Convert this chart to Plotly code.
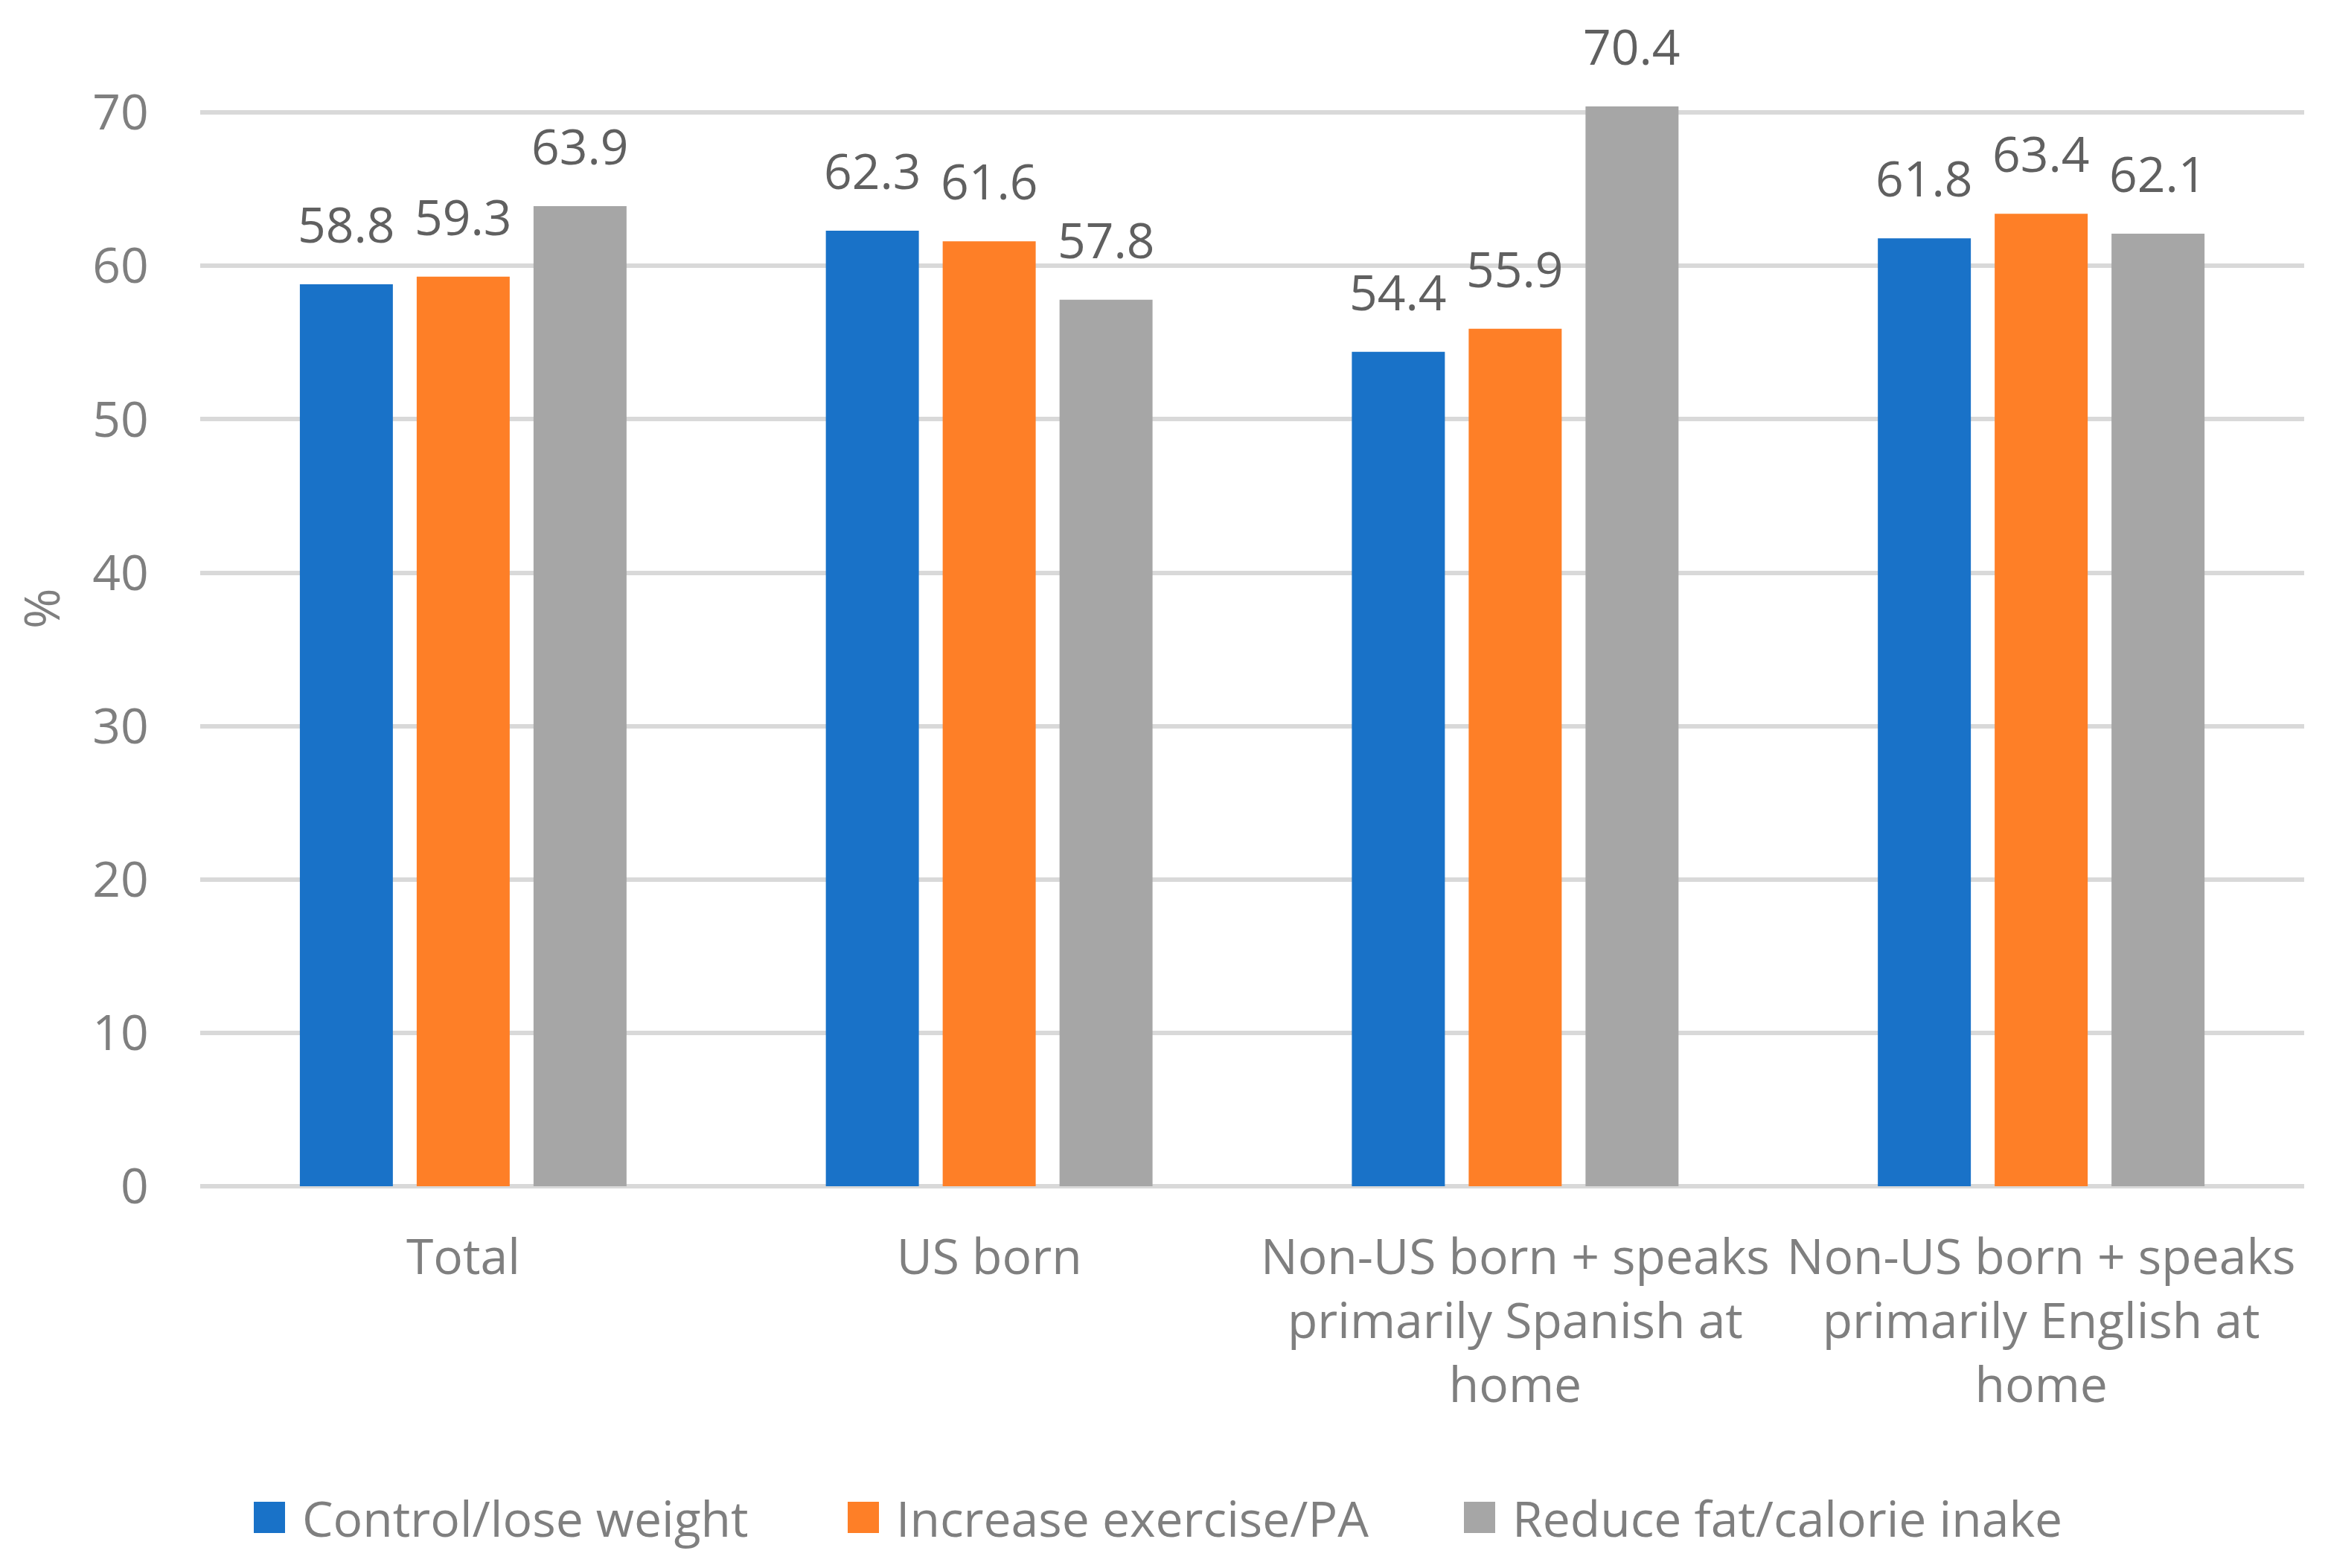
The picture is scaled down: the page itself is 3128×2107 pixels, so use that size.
import plotly.graph_objects as go

# ---------------- data ----------------
categories = ["Total", "US born",
              "Non-US born + speaks<br>primarily Spanish at<br>home",
              "Non-US born + speaks<br>primarily English at<br>home"]
series_names = ["Control/lose weight", "Increase exercise/PA", "Reduce fat/calorie inake"]
control_lose_weight = [58.8, 62.3, 54.4, 61.8]
increase_exercise = [59.3, 61.6, 55.9, 63.4]
reduce_fat = [63.9, 57.8, 70.4, 62.1]
y_ticks = [0, 10, 20, 30, 40, 50, 60, 70]
y_title = "%"

# ---------------- style ----------------
colors = ["#1972c8", "#fe7f27", "#a6a6a6"]
FONT = "Open Sans, Segoe UI, Lato, sans-serif"
FS = 66
AXIS_COLOR = "#7f7f7f"
LABEL_COLOR = "#606060"

OFF = 8                      # browser body margin
FW, FH = 3128 - 2 * OFF, 2107 - 2 * OFF
L, R, T, B = 261, 24, 102, 505
PW, PH = FW - L - R, FH - T - B
BARGAP, BARGROUPGAP = 0.3336, 0.204
N = 3
slot_px = PW / len(categories) * (1 - BARGAP) / N


def px_x(X):
    return (X - OFF - L) / PW


def px_y(Y):
    return (FH - B - (Y - OFF)) / PH


fig = go.Figure()
all_vals = [control_lose_weight, increase_exercise, reduce_fat]
annotations = []
for i, (name, vals, col) in enumerate(zip(series_names, all_vals, colors)):
    fig.add_trace(go.Bar(
        x=categories, y=vals, name=name,
        marker=dict(color=col, line=dict(width=0)),
        showlegend=False, cliponaxis=False,
    ))
    for c, v in zip(categories, vals):
        annotations.append(dict(
            x=c, y=v, xref="x", yref="y", text=f"{v:.1f}", showarrow=False,
            xanchor="center", yanchor="bottom",
            xshift=(i - (N - 1) / 2) * slot_px, yshift=35,
            font=dict(family=FONT, size=FS, color=LABEL_COLOR),
        ))

# legend (custom, bigger swatches like the reference)
legend_sq_left = [341, 1139, 1967]
SQ = 42
LEG_Y = 2039
shapes = []
for i, (name, col) in enumerate(zip(series_names, colors)):
    x0 = legend_sq_left[i]
    shapes.append(dict(type="rect", xref="paper", yref="paper",
                       x0=px_x(x0), x1=px_x(x0 + SQ),
                       y0=px_y(LEG_Y + SQ / 2), y1=px_y(LEG_Y - SQ / 2),
                       fillcolor=col, line=dict(width=0)))
    annotations.append(dict(
        x=px_x(x0 + SQ + 21), y=px_y(LEG_Y), xref="paper", yref="paper",
        text=name, showarrow=False, xanchor="left", yanchor="middle",
        font=dict(family=FONT, size=FS, color=AXIS_COLOR),
    ))

# y-axis title
annotations.append(dict(
    x=px_x(54), y=px_y(818), xref="paper", yref="paper", text=y_title,
    showarrow=False, textangle=-90, xanchor="center", yanchor="middle",
    font=dict(family=FONT, size=FS, color=AXIS_COLOR),
))

fig.update_layout(
    width=FW, height=FH,
    margin=dict(l=L, r=R, t=T, b=B),
    paper_bgcolor="white", plot_bgcolor="white",
    barmode="group", bargap=BARGAP, bargroupgap=BARGROUPGAP,
    font=dict(family=FONT, size=FS, color=AXIS_COLOR),
    showlegend=False,
    annotations=annotations, shapes=shapes,
)
fig.update_xaxes(
    showgrid=False, showline=False, zeroline=False,
    ticks="outside", ticklen=38, tickcolor="rgba(0,0,0,0)",
    tickfont=dict(family=FONT, size=FS, color=AXIS_COLOR),
)
fig.update_yaxes(
    range=[0, 72], tickvals=y_ticks,
    showgrid=True, gridcolor="#d9d9d9", gridwidth=6,
    zeroline=True, zerolinecolor="#d9d9d9", zerolinewidth=6,
    showline=False,
    ticks="outside", ticklen=55, tickcolor="rgba(0,0,0,0)",
    tickfont=dict(family=FONT, size=FS, color=AXIS_COLOR),
)

fig.write_html("out.html")
